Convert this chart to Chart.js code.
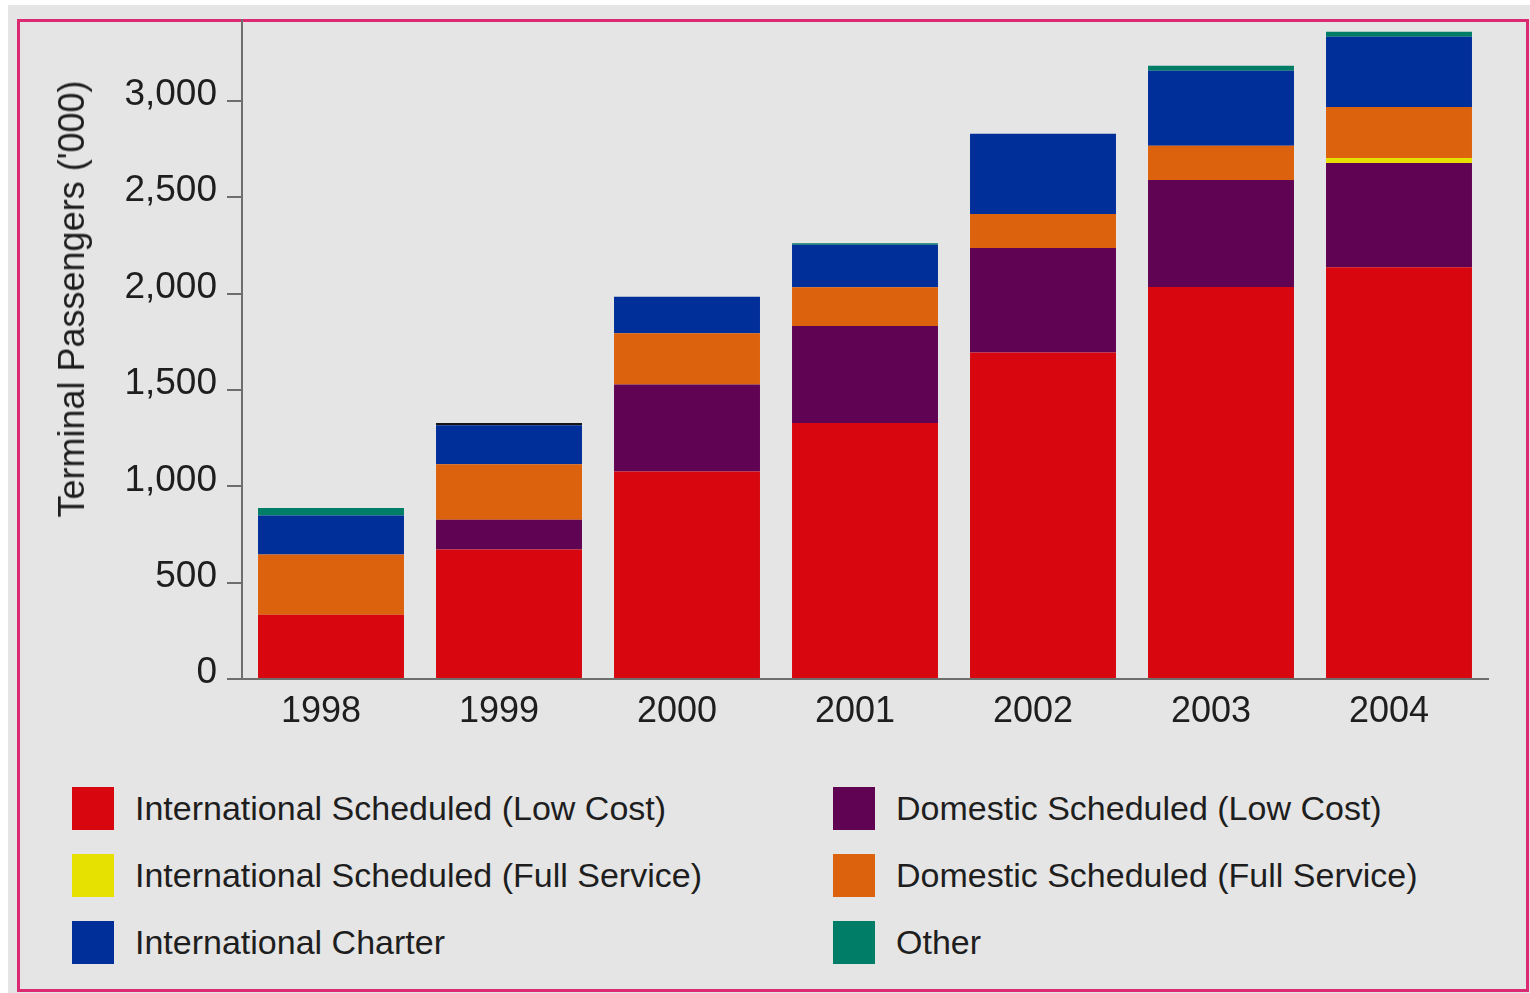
<!DOCTYPE html>
<html>
<head>
<meta charset="utf-8">
<script src="https://cdn.jsdelivr.net/npm/chart.js@4/dist/chart.umd.min.js"></script>
<style>
    body { margin: 0; background: #fff; font-family: "Liberation Sans", Arial, sans-serif; }
    #page { position: absolute; left: 8px; top: 5px; width: 1522px; height: 988px; background: #e5e5e5; }
    #frame { position: absolute; left: 17px; top: 19px; width: 1512px; height: 973px; border: 3px solid #dc2a72; box-sizing: border-box; }
    #chart-box { position: absolute; left: 0; top: 0; width: 1530px; height: 760px; }
    #y-title { position: absolute; left: 72px; top: 299px; transform: translate(-50%, -50%) rotate(-90deg); font-size: 36px; color: #1e1e1e; white-space: nowrap; }
    #legend { position: absolute; left: 72px; top: 787px; display: grid; grid-template-columns: 761px auto; row-gap: 24px; }
    .item { display: flex; align-items: center; height: 43px; font-size: 34px; color: #1e1e1e; white-space: nowrap; }
    .swatch { width: 42px; height: 43px; margin-right: 21px; flex: none; }
</style>
</head>
<body>
<div id="page"></div>
<div id="frame"></div>
<div id="chart-box"><canvas id="chart"></canvas></div>
<div id="y-title">Terminal Passengers ('000)</div>
<div id="legend"></div>
<script>
const years = ["1998", "1999", "2000", "2001", "2002", "2003", "2004"];
const yTicks = [0, 500, 1000, 1500, 2000, 2500, 3000];

// values in thousands
const intlLowCost = [334, 672, 1077, 1329, 1694, 2035, 2137];
const domLowCost = [0, 154, 452, 503, 543, 555, 541];
const intlFullService = [0, 0, 0, 0, 0, 0, 26];
const domFullService = [312, 289, 265, 201, 176, 177, 264];
const intlCharter = [202, 202, 190, 220, 417, 390, 365];
const other = [40, 12, 0, 8, 0, 26, 26];

const yMax = 3420;

const axisColor = "#6e6e6e";
const textColor = "#1e1e1e";

const datasets = [
    { label: "International Scheduled (Low Cost)", data: intlLowCost, backgroundColor: "#d8070f" },
    { label: "Domestic Scheduled (Low Cost)", data: domLowCost, backgroundColor: "#5f0352" },
    { label: "International Scheduled (Full Service)", data: intlFullService, backgroundColor: "#e6e100" },
    { label: "Domestic Scheduled (Full Service)", data: domFullService, backgroundColor: "#dd620d" },
    { label: "International Charter", data: intlCharter, backgroundColor: "#002f99" },
    { label: "Other", data: other, backgroundColor: "#007d66" }
];
const legendColors = datasets.map(d => d.backgroundColor);

// 1999's thin top sliver prints almost black in the source
datasets[5].backgroundColor = ctx => ctx.dataIndex === 1 ? "#151515" : "#007d66";

const chart = new Chart(document.getElementById("chart"), {
    type: "bar",
    data: {
        labels: years,
        datasets: datasets.map(d => ({
            ...d,
            borderWidth: 0,
            barPercentage: 0.82,
            categoryPercentage: 1
        }))
    },
    options: {
        responsive: true,
        maintainAspectRatio: false,
        animation: false,
        layout: { padding: { top: 20, right: 42, left: 0, bottom: 0 } },
        plugins: {
            legend: { display: false },
            tooltip: { enabled: false }
        },
        scales: {
            x: {
                stacked: true,
                grid: { display: false, drawTicks: false },
                border: { display: true, color: axisColor, width: 2 },
                ticks: {
                    color: textColor,
                    padding: 11,
                    labelOffset: -10,
                    font: { family: "Liberation Sans", size: 36 }
                },
                afterFit: scale => {
                    scale.height = 81;
                    scale.paddingLeft = 0;
                    scale.paddingRight = 0;
                }
            },
            y: {
                stacked: true,
                min: 0,
                max: yMax,
                grid: {
                    drawOnChartArea: false,
                    drawTicks: true,
                    tickLength: 15,
                    color: axisColor,
                    lineWidth: 2
                },
                border: { display: true, color: axisColor, width: 2 },
                ticks: {
                    color: textColor,
                    padding: 10,
                    labelOffset: -6,
                    font: { family: "Liberation Sans", size: 37 },
                    callback: v => v.toLocaleString("en-US")
                },
                afterBuildTicks: scale => {
                    scale.ticks = yTicks.map(v => ({ value: v }));
                },
                afterFit: scale => {
                    scale.width = 242;
                    scale.paddingTop = 0;
                    scale.paddingBottom = 0;
                }
            }
        }
    }
});

// Two-column legend: left column red/yellow/blue, right column purple/orange/green
const legendEl = document.getElementById("legend");
chart.data.datasets.forEach((d, i) => {
    const item = document.createElement("div");
    item.className = "item";
    const sw = document.createElement("span");
    sw.className = "swatch";
    sw.style.background = legendColors[i];
    item.appendChild(sw);
    item.appendChild(document.createTextNode(d.label));
    legendEl.appendChild(item);
});
</script>
</body>
</html>
